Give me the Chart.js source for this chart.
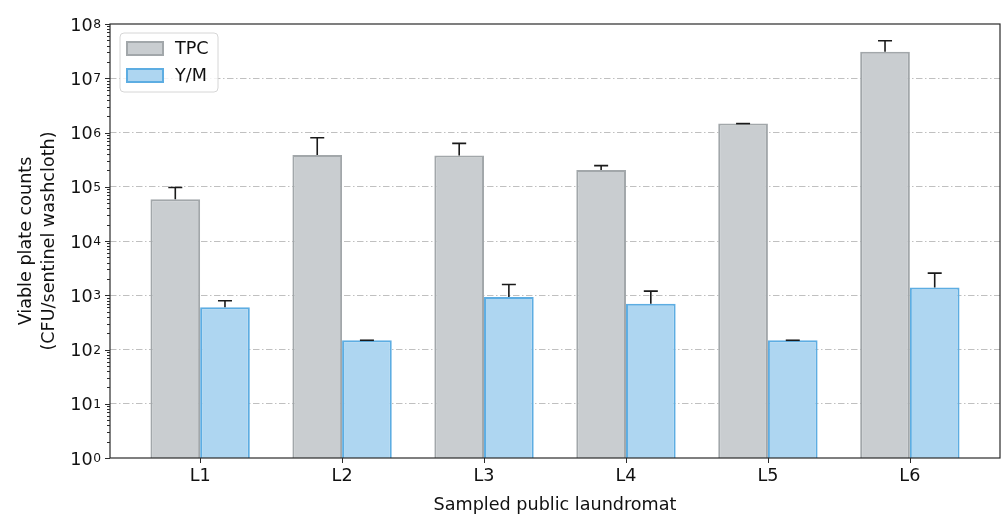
<!DOCTYPE html>
<html>
<head>
<meta charset="utf-8">
<script src="https://cdn.jsdelivr.net/npm/chart.js@4/dist/chart.umd.min.js"></script>
<style>
  html, body { margin: 0; padding: 0; background: #ffffff; }
  #wrap { width: 1003px; height: 516px; position: relative; }
</style>
</head>
<body>
<div id="wrap"><canvas id="c" width="1003" height="516"></canvas></div>
<script>
// Sampled sites
const sites = ['L1', 'L2', 'L3', 'L4', 'L5', 'L6'];

// Mean viable counts (CFU per sentinel washcloth)
const tpcMean = [5.9e4, 3.86e5, 3.75e5, 2.04e5, 1.46e6, 3.09e7];
const ymMean  = [600, 148, 925, 695, 148, 1390];

// Upper ends of the error bars
const tpcUpper = [9.7e4, 8.0e5, 6.3e5, 2.45e5, 1.46e6, 4.92e7];
const ymUpper  = [790, 148, 1580, 1190, 148, 2560];

// Exponents of the decade tick labels (10^n)
const decadeExponents = ['0', '1', '2', '3', '4', '5', '6', '7', '8'];

const FONT = 'DejaVu Sans';
const FS = 17.6;
const INK = '#111111';

function isDecade(v) {
  const l = Math.log10(v);
  return Math.abs(l - Math.round(l)) < 1e-9;
}

// Vertical ticks plus decade grid lines: 1..9 x 10^n
const logTicks = [];
for (let n = 0; n < 8; n++) {
  for (let m = 1; m < 10; m++) logTicks.push(m * Math.pow(10, n));
}
logTicks.push(1e8);

// Upper-only error bars with caps
const errorBars = {
  id: 'errorBars',
  afterDatasetsDraw(chart) {
    const ctx = chart.ctx;
    const ys = chart.scales.y;
    ctx.save();
    ctx.strokeStyle = '#1a1a1a';
    ctx.lineWidth = 1.6;
    chart.data.datasets.forEach((ds, di) => {
      const meta = chart.getDatasetMeta(di);
      meta.data.forEach((bar, i) => {
        const y0 = ys.getPixelForValue(ds.data[i].y);
        const y1 = ys.getPixelForValue(ds.upper[i]);
        ctx.beginPath();
        ctx.moveTo(bar.x, y0);
        ctx.lineTo(bar.x, y1);
        ctx.moveTo(bar.x - 7, y1);
        ctx.lineTo(bar.x + 7, y1);
        ctx.stroke();
      });
    });
    ctx.restore();
  }
};

// Frame, tick marks, power-of-ten labels and the legend box
const frame = {
  id: 'frame',
  afterDraw(chart) {
    const ctx = chart.ctx;
    const a = chart.chartArea;
    const ys = chart.scales.y;
    const xs = chart.scales.x;
    ctx.save();
    ctx.strokeStyle = '#2a2a2a';
    ctx.lineWidth = 1.2;
    ctx.strokeRect(a.left, a.top, a.right - a.left, a.bottom - a.top);

    ctx.beginPath();
    ctx.lineWidth = 1;
    logTicks.forEach(v => {
      const py = Math.round(ys.getPixelForValue(v)) + 0.5;
      const len = isDecade(v) ? 5 : 3;
      ctx.moveTo(a.left, py);
      ctx.lineTo(a.left - len, py);
    });
    sites.forEach((s, i) => {
      const px = Math.round(xs.getPixelForValue(i)) + 0.5;
      ctx.moveTo(px, a.bottom);
      ctx.lineTo(px, a.bottom + 5);
    });
    ctx.stroke();

    // y labels: "10" with a raised exponent
    ctx.fillStyle = INK;
    ctx.textAlign = 'right';
    const rightX = a.left - 9;
    decadeExponents.forEach((e, n) => {
      const py = ys.getPixelForValue(Math.pow(10, n));
      ctx.font = (FS * 0.7).toFixed(1) + 'px "' + FONT + '"';
      ctx.textBaseline = 'alphabetic';
      const ew = ctx.measureText(e).width;
      ctx.fillText(e, rightX, py + 4);
      ctx.font = FS + 'px "' + FONT + '"';
      ctx.textBaseline = 'middle';
      ctx.fillText('10', rightX - ew - 0.5, py + 2);
    });

    // legend
    const lx = a.left + 10, ly = a.top + 9, lw = 98, lh = 59, r = 4;
    ctx.beginPath();
    ctx.moveTo(lx + r, ly);
    ctx.arcTo(lx + lw, ly, lx + lw, ly + lh, r);
    ctx.arcTo(lx + lw, ly + lh, lx, ly + lh, r);
    ctx.arcTo(lx, ly + lh, lx, ly, r);
    ctx.arcTo(lx, ly, lx + lw, ly, r);
    ctx.closePath();
    ctx.fillStyle = 'rgba(255,255,255,0.8)';
    ctx.fill();
    ctx.strokeStyle = '#d6d6d6';
    ctx.lineWidth = 1;
    ctx.stroke();

    ctx.font = FS + 'px "' + FONT + '"';
    ctx.textBaseline = 'middle';
    ctx.textAlign = 'left';
    chart.data.datasets.forEach((ds, i) => {
      const cy = ly + 15.5 + i * 27;
      ctx.fillStyle = ds.backgroundColor;
      ctx.fillRect(lx + 7, cy - 6.5, 36, 13);
      ctx.strokeStyle = ds.borderColor;
      ctx.lineWidth = 2;
      ctx.strokeRect(lx + 7, cy - 6.5, 36, 13);
      ctx.fillStyle = INK;
      ctx.fillText(ds.label, lx + 55, cy + 1);
    });
    ctx.restore();
  }
};

const toPoints = arr => arr.map((v, i) => ({ x: i, y: v }));

new Chart(document.getElementById('c'), {
  type: 'bar',
  data: {
    datasets: [
      {
        label: 'TPC',
        data: toPoints(tpcMean),
        upper: tpcUpper,
        backgroundColor: '#c9cdd0',
        borderColor: '#a2a7aa',
        borderWidth: 2,
        borderSkipped: 'bottom'
      },
      {
        label: 'Y/M',
        data: toPoints(ymMean),
        upper: ymUpper,
        backgroundColor: '#aed6f1',
        borderColor: '#5dade2',
        borderWidth: 2,
        borderSkipped: 'bottom'
      }
    ]
  },
  options: {
    responsive: false,
    animation: false,
    devicePixelRatio: 1,
    categoryPercentage: 0.7,
    barPercentage: 1.0,
    layout: { padding: { top: 24, right: 3, left: 0, bottom: 0 } },
    plugins: {
      legend: { display: false },
      tooltip: { enabled: false }
    },
    scales: {
      x: {
        type: 'linear',
        min: -0.635,
        max: 5.635,
        offset: false,
        afterBuildTicks(scale) {
          scale.ticks = sites.map((s, i) => ({ value: i }));
        },
        afterFit(scale) { scale.height = 58; },
        grid: { display: false, drawTicks: false, offset: false },
        border: { display: false },
        ticks: {
          autoSkip: false,
          maxRotation: 0,
          padding: 8,
          color: INK,
          font: { family: FONT, size: FS },
          callback: v => sites[v]
        },
        title: {
          display: true,
          text: 'Sampled public laundromat',
          color: INK,
          font: { family: FONT, size: FS },
          padding: { top: 3, bottom: 0 }
        }
      },
      y: {
        type: 'logarithmic',
        min: 1,
        max: 1e8,
        afterBuildTicks(scale) {
          scale.ticks = logTicks.map(v => ({ value: v, major: isDecade(v) }));
        },
        afterFit(scale) { scale.width = 110; },
        grid: {
          drawTicks: false,
          lineWidth: 1,
          color: ctx => {
            const v = ctx.tick && ctx.tick.value;
            if (!v || !isDecade(v) || v === 1 || v === 1e8) return 'rgba(0,0,0,0)';
            return '#c0c0c0';
          }
        },
        border: { display: false, dash: [6.5, 2.5, 1.5, 2.5] },
        ticks: { display: false, autoSkip: false },
        title: {
          display: true,
          text: ['Viable plate counts', '(CFU/sentinel washcloth)'],
          color: INK,
          font: { family: FONT, size: FS, lineHeight: 1.3 },
          padding: { top: 15, bottom: 0 }
        }
      }
    }
  },
  plugins: [errorBars, frame]
});
</script>
</body>
</html>
